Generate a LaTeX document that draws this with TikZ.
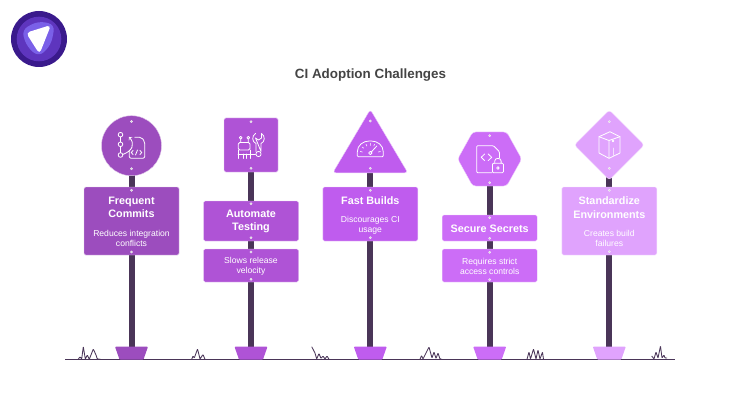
\documentclass[tikz,border=0pt]{standalone}
\usepackage{fontspec}
\setmainfont{Liberation Sans}
\definecolor{colA}{HTML}{9C4DBE}
\definecolor{colB}{HTML}{AF53D6}
\definecolor{colC}{HTML}{BF5CEE}
\definecolor{colD}{HTML}{CC6DF7}
\definecolor{colE}{HTML}{E0A3FD}
\definecolor{polecol}{HTML}{4A3558}
\definecolor{groundcol}{HTML}{4A3558}
\definecolor{titlecol}{HTML}{444444}
\definecolor{logoA}{HTML}{3A1A8C}
\definecolor{logoB}{HTML}{5E35BE}
\definecolor{logoC}{HTML}{7A60E8}
\tikzset{
	signbox/.style={rectangle,rounded corners=1.5pt,draw=white!70!#1,line width=.4pt,fill=#1,inner sep=0pt,minimum width=95pt},
	signline/.style={draw=white!70!#1,line width=.4pt,fill=#1,rounded corners=3pt},
	footbase/.style={fill=#1,rounded corners=.8pt},
	pole/.style={line width=6pt,polecol},
	holedot/.style={fill=white!85!black,draw=white,line width=.2pt},
	icon/.style={draw=white,line width=.8pt,line join=round,line cap=round},
	head/.style={text=white,font=\bfseries\fontsize{10.8}{13.6}\selectfont,align=center,inner sep=0pt},
	sub/.style={text=white,font=\fontsize{8.6}{10}\selectfont,align=center,inner sep=0pt},
	grass/.style={groundcol,line width=.85pt,line join=round,rounded corners=.6pt},
}
\begin{document}
\begin{tikzpicture}[x=1pt,y=-1pt]
		\useasboundingbox (0,0) rectangle (740,420);
		% logo
		\fill [logoA] (39,39) circle (28);
		\fill [logoB] (39,39) circle (22.3);
		\fill [logoC,rounded corners=7pt] (21.5,30)--(38,21)--(55,24.5)--(51,45)--(39,57)--(27,47)--cycle;
		\fill [white,rounded corners=4pt] (26,32.8)--(51,25)--(39.5,54)--cycle;
		\node [text=titlecol,font=\bfseries\fontsize{13.4}{15}\selectfont] (title) at (370.5,75) {CI Adoption Challenges};
		% ground
		\coordinate (groundL) at (65,359.5);
		\coordinate (groundR) at (675,359.5);
		\draw [grass] (groundL)--(groundR);
		\draw [grass] (78.3,359.3)--(80,356.7)--(81.7,359)--(83.3,346.7)--(85.3,359)--(87.3,355)--(89.3,359.3)--(93.3,349)--(96,355)--(97.3,359)--(100.7,359.3);
		\draw [grass] (191.7,359.3)--(193,356)--(194.3,358)--(197.5,349)--(200,359)--(203,354.5)--(205,359.3);
		\draw [grass] (311.7,346.7)--(315,353)--(316.7,359)--(319,353.5)--(321,358.5)--(323,356)--(325,359)--(327,356)--(329,359.3);
		\draw [grass] (420,359.3)--(421.5,355.5)--(423,359)--(425,355)--(429,347)--(432,358)--(434,352)--(436,358.5)--(438,353)--(440,359)--(442,359.3);
		\draw [grass] (527,359.3)--(529,352)--(530.5,359)--(533.5,349)--(536,359)--(538,350)--(540,359)--(542.5,352)--(543.5,359.3);
		\draw [grass] (651.7,356)--(654,359)--(656,352)--(658,358)--(660.5,346)--(662,358)--(664,355)--(665,358)--(667,358);
		% frequent commits
		\begin{scope}[shift={(131.5,0)}]
		\coordinate (top1) at (0,170);
		\coordinate (foot1) at (0,347);
		\draw [pole] (top1)--(foot1);
		\fill [footbase=colA] (-16.5,346.7)--(16.5,346.7)--(12,359.5)--(-12,359.5)--cycle;
		\node [circle,draw=white!70!colA,line width=.4pt,fill=colA,inner sep=0pt,minimum size=60pt] (sign1) at (0,145.7) {};
		\node [signbox=colA,minimum height=68pt] (box1) at (0,221) {};
		\node [head] (head1) at (0,207.5) {Frequent\\Commits};
		\node [sub] (sub1) at (0,238.7) {Reduces integration\\conflicts};
		\draw [holedot] (0,121.5) circle (1.2) (0,168.7) circle (1.2) (0,190.3) circle (1.2) (0,252) circle (1.2);
		\draw [icon] (-11,134.7) circle (2.3) (-11,144.3) circle (2.3) (-11,155) circle (2.3);
		\draw [icon] (-11,137)--(-11,142) (-11,146.6)--(-11,152.7);
		\draw [icon,->,>=to] (-8.8,154.5) .. controls (1,151) and (4,144) .. (-2.5,137);
		\draw [icon,rounded corners=2pt] (3.3,137.3)--(10,137.3)--(13.3,141.7)--(13.3,158.3)--(-2.3,158.3)--(-2.3,151);
		\draw [icon] (1.5,150.5)--(-.2,152.5)--(1.5,154.5) (8.5,150.5)--(10.2,152.5)--(8.5,154.5) (6,150)--(4,155);
		\end{scope}
		% automate testing
		\begin{scope}[shift={(251,0)}]
		\coordinate (top2) at (0,170);
		\coordinate (foot2) at (0,347);
		\draw [pole] (top2)--(foot2);
		\fill [footbase=colB] (-16.5,346.7)--(16.5,346.7)--(12,359.5)--(-12,359.5)--cycle;
		\node [signbox=colB,minimum width=54pt,minimum height=54pt] (sign2) at (0,145) {};
		\node [signbox=colB,minimum height=40pt] (box2) at (0,221) {};
		\node [head] (head2) at (0,221.5) {Automate\\Testing};
		\node [signbox=colB,minimum height=33pt] (subbox2) at (0,265.5) {};
		\node [sub] (sub2) at (0,265.8) {Slows release\\velocity};
		\draw [holedot] (0,121.7) circle (1.2) (0,168.3) circle (1.2) (0,203.7) circle (1.2) (0,237.7) circle (1.2) (0,252) circle (1.2) (0,279.3) circle (1.2);
		\draw [icon,rounded corners=1.5pt] (-12.7,142.5) rectangle (-1,150);
		\draw [icon] (-10.3,137.7) circle (1.4) (-2.7,137.7) circle (1.4) (-10.3,139.1)--(-10.3,142.5) (-2.7,139.1)--(-2.7,142.5);
		\draw [icon] (-13,158.5)--(-13,150) (-1,158.5)--(-1,150) (-13,154)--(4.5,154) (-8,154)--(-8,158.5) (-5,154)--(-5,158.5);
		\draw [icon] (4.5,133.5) .. controls (.5,136) and (1,142) .. (5,143.5)--(5,151.5) (10,151.5)--(10,143.5) .. controls (14,142) and (14.5,136) .. (10.5,133.5)--(10.5,138)--(7.5,140)--(4.5,138)--cycle;
		\draw [icon] (7.5,154) circle (2.6);
		\end{scope}
		% fast builds
		\begin{scope}[shift={(370.3,0)}]
		\coordinate (top3) at (0,170);
		\coordinate (foot3) at (0,347);
		\draw [pole] (top3)--(foot3);
		\fill [footbase=colC] (-16.5,346.7)--(16.5,346.7)--(12,359.5)--(-12,359.5)--cycle;
		\filldraw [signline=colC] (0,109.5)--(37.5,172.8)--(-37.5,172.8)--cycle;
		\node [signbox=colC,minimum height=54pt] (box3) at (0,214) {};
		\node [head] (head3) at (0,200.7) {Fast Builds};
		\node [sub] (sub3) at (0,224.8) {Discourages CI\\usage};
		\draw [holedot] (0,121) circle (1.2) (0,168.3) circle (1.2) (0,190.3) circle (1.2) (0,237.7) circle (1.2);
		\draw [icon,rounded corners=1pt] (-13,156.7)--(-13,153) .. controls (-13,145) and (-7,141) .. (0,141) .. controls (7,141) and (13,145) .. (13,153)--(13,156.7)--cycle;
		\draw [icon] (0,153) circle (1.7) (1.2,151.8)--(6.5,146);
		\draw [icon,line width=.6pt] (-10,151.5)--(-8,152) (-8.2,147)--(-6.6,148.2) (-4.3,144.2)--(-3.5,146) (0,143.3)--(0,145.5) (4.3,144.2)--(3.5,146) (10,151.5)--(8,152);
		\end{scope}
		% secure secrets
		\begin{scope}[shift={(489.7,0)}]
		\coordinate (top4) at (0,180);
		\coordinate (foot4) at (0,347);
		\draw [pole] (top4)--(foot4);
		\fill [footbase=colD] (-16.5,346.7)--(16.5,346.7)--(12,359.5)--(-12,359.5)--cycle;
		\filldraw [signline=colD] (-17,132)--(17,132)--(32,159)--(17,186)--(-17,186)--(-32,159)--cycle;
		\node [signbox=colD,minimum height=26pt] (box4) at (0,228) {};
		\node [head] (head4) at (0,228.3) {Secure Secrets};
		\node [signbox=colD,minimum height=33pt] (subbox4) at (0,265.5) {};
		\node [sub] (sub4) at (0,266) {Requires strict\\access controls};
		\draw [holedot] (0,135.7) circle (1.2) (0,182.7) circle (1.2) (0,217.7) circle (1.2) (0,238.3) circle (1.2) (0,252.3) circle (1.2) (0,279.7) circle (1.2);
		\draw [icon,rounded corners=1pt] (2,172.7)--(-13,172.7)--(-13,145.7)--(3.7,145.7)--(9.7,151.7)--(9.7,158);
		\draw [icon] (-5,154)--(-8.5,157.3)--(-5,160.6) (-1.5,154)--(2,157.3)--(-1.5,160.6);
		\draw [icon,rounded corners=1pt] (2.7,163.3) rectangle (13.7,172.7);
		\draw [icon] (5,163.3)--(5,161) .. controls (5,157.5) and (11.4,157.5) .. (11.4,161)--(11.4,163.3) (8.2,168) circle (1.3);
		\end{scope}
		% standardize environments
		\begin{scope}[shift={(609.3,0)}]
		\coordinate (top5) at (0,172);
		\coordinate (foot5) at (0,347);
		\draw [pole] (top5)--(foot5);
		\fill [footbase=colE] (-16.5,346.7)--(16.5,346.7)--(12,359.5)--(-12,359.5)--cycle;
		\filldraw [signline=colE] (0,110)--(35,145)--(0,180)--(-35,145)--cycle;
		\node [signbox=colE,minimum height=68pt] (box5) at (0,221) {};
		\node [head] (head5) at (0,207.5) {Standardize\\Environments};
		\node [sub] (sub5) at (0,238.7) {Creates build\\failures};
		\draw [holedot] (0,121.7) circle (1.2) (0,168.3) circle (1.2) (0,190.3) circle (1.2) (0,251.7) circle (1.2);
		\draw [icon] (.7,131.7)--(-10.3,136.7)--(-10.3,153)--(-.3,158.3)--(10.7,153)--(10.7,136.7)--cycle;
		\draw [icon] (-10.3,136.7)--(-.3,140.5)--(10.7,136.7) (-.3,140.5)--(-.3,158.3);
		\draw [icon,line width=.6pt] (3.7,140.9) circle (1) (4.3,148)--(4.3,155.5);
		\end{scope}
\end{tikzpicture}
\end{document}
